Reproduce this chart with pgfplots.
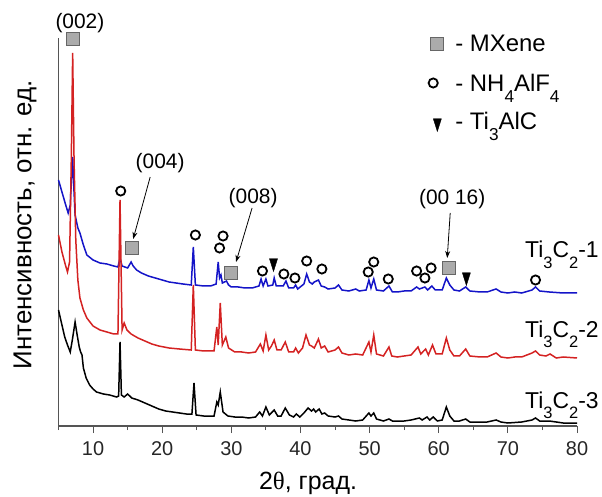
\documentclass[border=0pt]{standalone}
\usepackage{fontspec}
\usepackage{graphicx}
\usepackage{pgfplots}
\pgfplotsset{compat=1.18}
\usetikzlibrary{arrows.meta}
\setmainfont{Liberation Sans}
\newfontfamily\greek{Liberation Serif}
\definecolor{xblue}{HTML}{1414C8}
\definecolor{xred}{HTML}{D42222}
\definecolor{axgray}{HTML}{555555}
\definecolor{sqfill}{HTML}{ABABAB}
\definecolor{sqdraw}{HTML}{666666}
\newcommand{\sub}[1]{\raisebox{-0.45em}{\scalebox{0.72}{#1}}}

\begin{document}
\begin{tikzpicture}
\begin{axis}[
  name=ax,
  scale only axis,
  width=518.5bp, height=388bp,
  xmin=5, xmax=80, ymin=0, ymax=388,
  axis x line=bottom, axis y line=left,
  axis line style={-, axgray, line width=1.2bp},
  xtick={10,20,...,80},
  minor xtick={5,15,...,75},
  ytick=\empty,
  tick align=outside,
  major tick length=7bp, minor tick length=4bp,
  tick style={axgray, line width=1bp},
  /pgf/number format/assume math mode=true,
  xticklabel style={font=\fontsize{20}{24}\selectfont, text=black!85, yshift=-5bp},
  clip=false,
  xlabel={2{\greek θ}, град.},
  xlabel style={font=\fontsize{25}{30}\selectfont, at={(axis cs:41.1,-63)}, anchor=base},
  ylabel={Интенсивность, отн. ед.},
  ylabel style={font=\fontsize{26}{30}\selectfont, at={(axis cs:0.15,201)}, anchor=center},
]
% Ti3C2-1
\addplot[xblue, line width=1.5bp] coordinates {
(5.0,246) (5.5,234) (6.0,222) (6.4,213) (6.7,221) (6.9,251) (7.05,269) (7.2,241) (7.4,211)
(7.8,198) (8.1,193) (8.6,181) (9.1,171) (10.0,166) (11.0,163) (12.0,162) (13.0,160) (13.6,159)
(13.9,168) (14.2,160) (15.0,158) (15.5,164) (15.8,160) (16.3,156) (17,153) (18,150) (19,148)
(20,146) (21,144) (22,143) (23,142) (24.2,141) (24.5,179) (24.8,141) (26,140) (27,140) (27.8,142)
(28.1,164) (28.3,148) (28.5,151) (28.7,143) (29.3,145) (29.6,141) (30,139) (31,139) (32,138) (33,138)
(34.0,140) (34.3,147) (34.6,140) (35.0,147) (35.3,140) (36.0,141) (36.2,148) (36.5,140) (37.5,140)
(37.9,145) (38.3,138) (39.0,138) (39.3,141) (39.6,137) (40.5,142) (40.9,152) (41.3,144) (41.7,142)
(42.0,144) (42.6,146) (43.0,140) (43.5,139) (44.0,137) (45.0,138) (45.5,141) (46,136) (47,135)
(48,137) (48.5,135) (49.5,136) (49.9,146) (50.2,138) (50.6,147) (51,136) (52,135) (52.8,140)
(53.3,134) (54,134) (55,135) (56,135) (56.8,139) (57.2,137) (58.0,139) (58.4,136) (59.0,140)
(59.5,136) (60.5,136) (61.1,148) (61.6,141) (62.2,136) (63,135) (63.9,139) (64.5,135) (66,134)
(67,134) (68.3,137) (69,134) (70,133) (71,134) (72,133) (73.5,136) (74.0,139) (74.6,135) (76,134)
(78,133) (80,133)
};
% Ti3C2-2
\addplot[xred, line width=1.5bp] coordinates {
(5.0,191) (5.5,174) (6.0,161) (6.3,154) (6.6,164) (6.85,266) (7.05,373) (7.25,266) (7.5,186)
(7.8,146) (8.1,128) (8.6,116) (9.1,108) (10,100) (11,96) (12,94) (13,92) (13.6,92) (13.9,226)
(14.2,96) (14.5,103) (14.9,96) (15.5,92) (16.5,88) (17.5,85) (18.5,82) (19.5,80) (21,78) (22.5,77)
(24.2,76) (24.5,141) (24.8,76) (26,75) (27.5,75) (27.9,99) (28.1,81) (28.4,123) (28.7,81) (29.2,89)
(29.6,78) (30.5,74) (31.5,74) (32.5,73) (33.5,74) (34.2,82) (34.6,75) (35.0,91) (35.4,76) (35.8,80)
(36.2,86) (36.6,76) (37.2,76) (37.8,84) (38.3,74) (39.0,74) (39.3,78) (39.7,73) (40.3,78) (40.8,91)
(41.3,81) (41.6,80) (42.0,78) (42.6,87) (43.0,78) (43.5,80) (44.0,74) (45.0,76) (45.5,79) (46,73)
(47,71) (48,72) (49,71) (49.9,84) (50.2,74) (50.6,91) (51,72) (52,70) (52.8,79) (53.2,70) (54,69)
(55,70) (56,71) (57.0,79) (57.4,72) (58.1,77) (58.5,71) (59.1,81) (59.6,72) (60.5,72) (61.1,88)
(61.6,76) (62.2,70) (63,70) (63.9,77) (64.5,70) (66,69) (67,69) (68.3,73) (69,69) (70,68) (71,69)
(72,69) (73.5,73) (74.0,75) (74.6,71) (75.5,70) (76.1,72) (77,68) (78,69) (80,68)
};
% Ti3C2-3
\addplot[black, line width=1.5bp] coordinates {
(5.0,116) (5.4,104) (5.9,89) (6.3,81) (6.7,74) (7.0,86) (7.4,104) (7.7,91) (8.0,79) (8.2,74)
(8.4,71) (8.6,58) (9.0,48) (9.5,41) (10.0,37) (10.5,34) (11.5,32) (12.4,31) (13.4,29) (13.7,30)
(13.9,84) (14.1,31) (14.5,29) (15.0,32) (15.6,28) (16.5,26) (17.5,23) (18.5,20) (19.5,17) (20.5,15)
(21.5,14) (22.5,13) (23.5,12) (24.3,12) (24.6,43) (24.9,11) (26,10) (27.5,10) (27.9,24) (28.1,21)
(28.4,34) (28.8,14) (29.5,10) (30.5,9) (31.5,9) (32.5,8) (33.5,9) (34.1,14) (34.5,10) (35.0,19)
(35.5,11) (36.2,16) (36.7,10) (37.2,10) (37.8,18) (38.4,11) (39.0,9) (39.4,12) (39.9,9) (40.5,13)
(41.1,18) (41.6,15) (41.9,17) (42.2,14) (42.7,17) (43.1,12) (43.5,13) (44,10) (45,9) (45.5,10)
(46,7) (47,6) (48,5) (49,6) (49.9,13) (50.2,10) (50.6,13) (51,7) (52,5) (52.8,7) (53.3,5) (55,5)
(56,6) (57.2,8) (57.6,6) (58.3,9) (58.7,6) (59.2,9) (59.8,5) (60.5,6) (61.1,19) (61.6,10) (62.2,5)
(63,5) (63.9,7) (64.5,4) (66,4) (67,4) (68.3,6) (69,4) (70,3) (72,4) (73.5,6) (74.0,8) (74.6,5)
(76,5) (78,3) (80,3)
};
% MXene reflections
\addplot[only marks, mark=square*, mark size=6.5bp,
  mark options={fill=sqfill, draw=sqdraw, line width=0.8bp}] coordinates {
(7.1,387) (15.6,178) (30.0,153) (61.4,158) (59.8,382)
};
% NH4AlF4 reflections
\addplot[only marks, mark=o, mark size=4.6bp,
  mark options={draw=black, line width=1.8bp}] coordinates {
(14.0,235) (24.8,191) (28.3,178) (28.8,190) (34.5,155) (37.6,152) (39.2,148) (40.9,165) (43.1,157)
(49.8,154) (50.6,164) (52.7,147) (56.8,155) (58.0,148) (58.9,158) (74.0,146) (59.2,343)
};
% Ti3AlC reflections
\addplot[only marks, mark=triangle*, mark size=8.5bp,
  mark options={fill=black, draw=black, rotate=180, xscale=0.55}] coordinates {
(36.1,163) (64.0,149) (59.8,303)
};

\begin{scope}[font=\fontsize{21}{25}\selectfont]
\node at (axis cs:8.1,403) {(002)};
\node at (axis cs:19.7,263) {(004)};
\node at (axis cs:33.15,228) {(008)};
\node at (axis cs:61.95,227) {(00 16)};
\end{scope}
\draw[-{Stealth[length=7bp,width=5bp]}, line width=0.8bp] (axis cs:18.26,249) -- (axis cs:15.8,187);
\draw[-{Stealth[length=7bp,width=5bp]}, line width=0.8bp] (axis cs:33.0,218) -- (axis cs:30.68,164);
\draw[-{Stealth[length=7bp,width=5bp]}, line width=0.8bp] (axis cs:61.66,213) -- (axis cs:61.23,168);

\begin{scope}[font=\fontsize{24}{28}\selectfont]
\node[anchor=base west] at (axis cs:61.9,374) {- MXene};
\node[anchor=base west] at (axis cs:61.9,334) {- NH\sub{4}AlF\sub{4}};
\node[anchor=base west] at (axis cs:61.9,296) {- Ti\sub{3}AlC};
\end{scope}
\begin{scope}[font=\fontsize{23}{27}\selectfont]
\node[anchor=base west] at (axis cs:72.0,168) {Ti\sub{3}C\sub{2}-1};
\node[anchor=base west] at (axis cs:72.0,89) {Ti\sub{3}C\sub{2}-2};
\node[anchor=base west] at (axis cs:72.0,18) {Ti\sub{3}C\sub{2}-3};
\end{scope}
\end{axis}
\pgfresetboundingbox
\path[use as bounding box] ([shift={(-58.5bp,-71bp)}]ax.south west) rectangle ([shift={(25bp,38bp)}]ax.north east);
\end{tikzpicture}
\end{document}
